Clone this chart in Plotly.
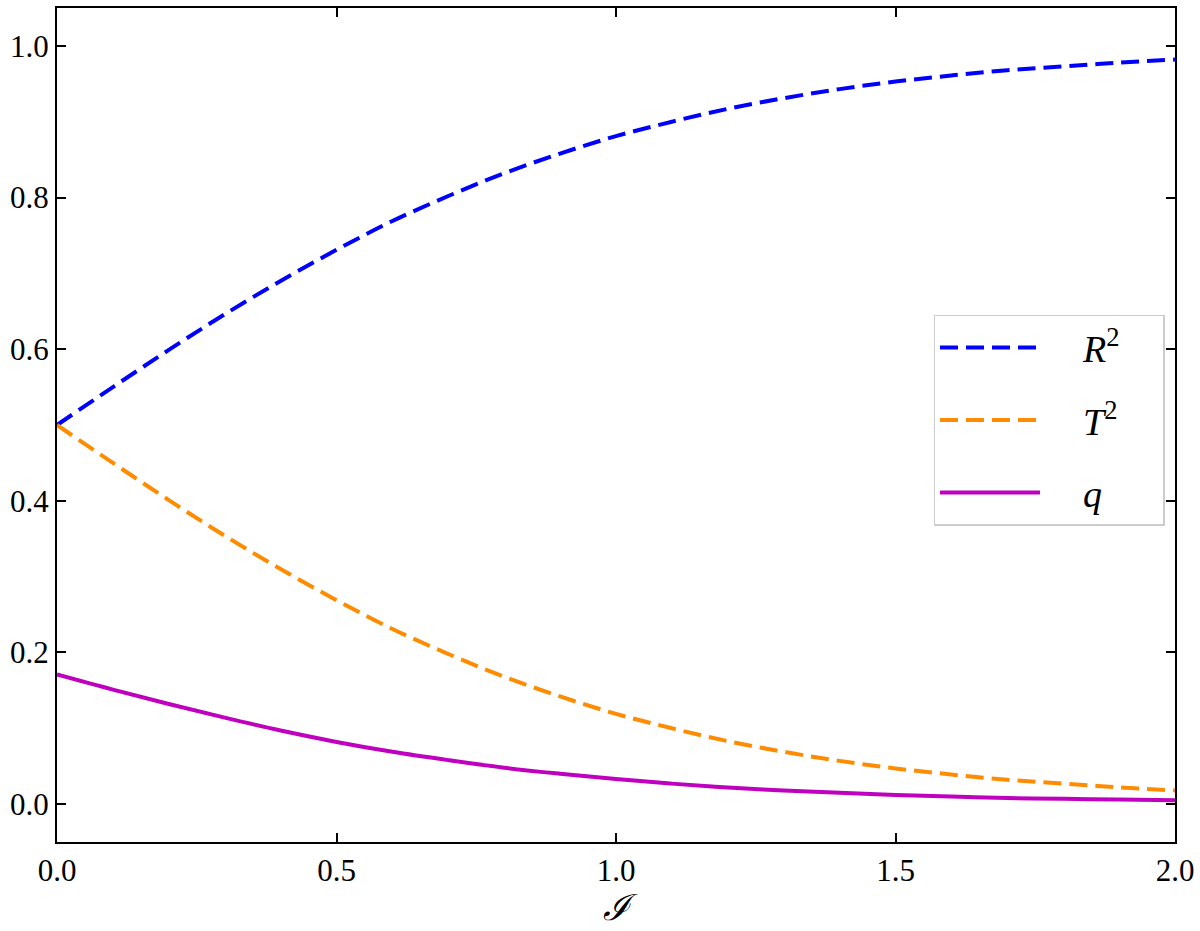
import plotly.graph_objects as go

# values
intensity = [0.0, 0.1, 0.2, 0.3, 0.4, 0.5, 0.6, 0.7, 0.8, 0.9, 1.0,
             1.1, 1.2, 1.3, 1.4, 1.5, 1.6, 1.7, 1.8, 1.9, 2.0]
r2 = [0.500, 0.550, 0.599, 0.646, 0.690, 0.731, 0.769, 0.802, 0.832, 0.858, 0.881,
      0.900, 0.917, 0.931, 0.943, 0.953, 0.961, 0.968, 0.973, 0.978, 0.982]
t2 = [0.500, 0.450, 0.401, 0.354, 0.310, 0.269, 0.231, 0.198, 0.168, 0.142, 0.119,
      0.100, 0.083, 0.069, 0.057, 0.047, 0.039, 0.032, 0.027, 0.022, 0.018]
q = [0.171, 0.151, 0.132, 0.114, 0.097, 0.082, 0.069, 0.058, 0.048, 0.040, 0.033,
     0.027, 0.022, 0.018, 0.015, 0.012, 0.010, 0.008, 0.007, 0.006, 0.005]

x_ticks = [0.0, 0.5, 1.0, 1.5, 2.0]
y_ticks = [0.0, 0.2, 0.4, 0.6, 0.8, 1.0]

SERIF = "Liberation Serif, Times New Roman, serif"
PAD = "&nbsp;" * 4

fig = go.Figure()
fig.add_trace(go.Scatter(
    x=intensity, y=r2, mode="lines", name=PAD + "<i>R</i><sup>2</sup>" + PAD, legendgroup="a",
    line=dict(color="#0000ff", width=4, dash="18px,8px", shape="spline"),
))
fig.add_trace(go.Scatter(
    x=intensity, y=t2, mode="lines", name=PAD + "<i>T</i><sup>2</sup>", legendgroup="b",
    line=dict(color="#ff8c00", width=4, dash="18px,8px", shape="spline"),
))
fig.add_trace(go.Scatter(
    x=intensity, y=q, mode="lines", name=PAD + "<i>q</i>", legendgroup="c",
    line=dict(color="#bf00bf", width=4, shape="spline"),
))

fig.update_layout(
    width=1200,
    height=931,
    paper_bgcolor="White",
    plot_bgcolor="White",
    template="plotly_white",
    showlegend=True,
    margin=dict(l=57, r=21, t=6, b=89),
    font=dict(family=SERIF, size=31, color="black"),
    legend=dict(
        x=0.784, y=0.632, xanchor="left", yanchor="top",
        bgcolor="white",
        bordercolor="#cccccc",
        borderwidth=1.5,
        font=dict(family=SERIF, size=38),
        traceorder="grouped",
        tracegroupgap=20,
        itemwidth=100,
    ),
)

fig.update_xaxes(
    range=[0, 2],
    tickvals=x_ticks,
    ticktext=["%.1f" % v for v in x_ticks],
    tickfont=dict(family=SERIF, size=31),
    ticks="inside",
    ticklen=9,
    tickwidth=1.5,
    tickcolor="black",
    showline=True,
    linecolor="black",
    linewidth=2,
    mirror="ticks",
    showgrid=False,
    zeroline=False,
    title=dict(text="<i>ℐ</i>", font=dict(family=SERIF, size=36), standoff=0),
)
fig.update_yaxes(
    range=[-0.05, 1.05],
    tickvals=y_ticks,
    ticktext=["%.1f" % v for v in y_ticks],
    tickfont=dict(family=SERIF, size=31),
    ticks="inside",
    ticklen=9,
    tickwidth=1.5,
    tickcolor="black",
    showline=True,
    linecolor="black",
    linewidth=2,
    mirror="ticks",
    showgrid=False,
    zeroline=False,
)

fig.write_html(
    "out.html",
    config={"displayModeBar": False},
    post_script="document.body.style.margin='0';",
)
